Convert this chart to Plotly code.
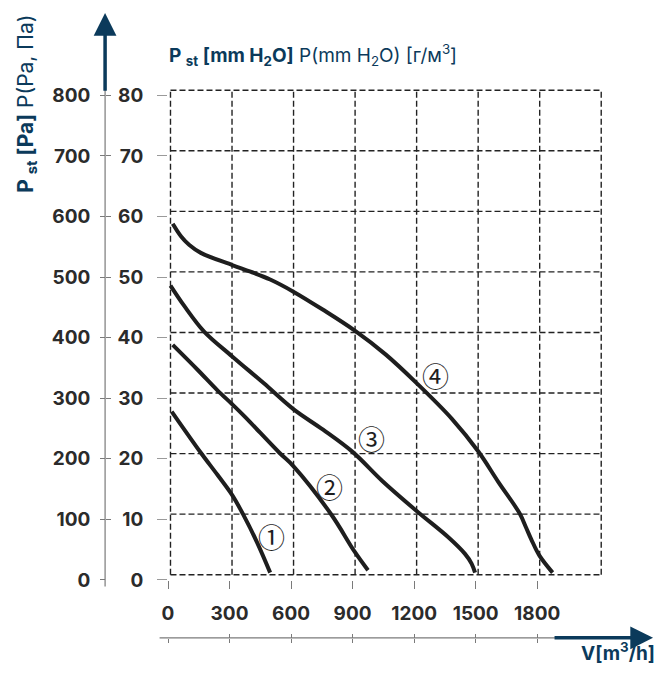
import plotly.graph_objects as go

# ---------------- data ----------------
flow_ticks = [0, 300, 600, 900, 1200, 1500, 1800]
flow_labels = ["0", "300", "600", "900", "1200", "1500", "1800"]
pa_ticks = [0, 100, 200, 300, 400, 500, 600, 700, 800]
pa_labels = ["0", "100", "200", "300", "400", "500", "600", "700", "800"]
mm_labels = ["0", "10", "20", "30", "40", "50", "60", "70", "80"]

curve1_x = [18, 160, 240, 313, 365, 434, 498]
curve1_y = [278, 210, 174, 140, 109, 62, 12]

curve2_x = [23, 144, 241, 313, 373, 543, 611, 796, 909, 975]
curve2_y = [388, 347, 313, 290, 270, 210, 188, 108, 47, 16]

curve3_x = [12, 80, 176, 313, 466, 611, 756, 901, 1046, 1215, 1368, 1448, 1480, 1497]
curve3_y = [486, 452, 410, 369, 325, 282, 248, 211, 163, 113, 70, 43, 27, 12]

curve4_x = [23, 64, 104, 160, 313, 402, 498, 611, 756, 909, 1062, 1212, 1384, 1513, 1610, 1714, 1745, 1771, 1811, 1875]
curve4_y = [588, 567, 553, 540, 520, 509, 496, 476, 446, 412, 372, 325, 266, 212, 162, 110, 87, 67, 40, 12]

curve_names = ["①", "②", "③", "④"]
curve_label_x = [506, 788, 994, 1303]
curve_label_y = [72, 154, 234, 338]

# ---------------- styling / layout constants ----------------
W, H = 658, 679
Y_FIX = 1 / 0.983                  # the photo squeezes the page height slightly
X0_PX, X_SCALE = 163.5, 0.207      # px of flow 0, px per m3/h
Y0_PX, Y_SCALE = 580.3, 0.606      # px of pressure 0, px per Pa (as seen in the picture)
RIGHT_PX, TOP_PX = 612, 84
GRID_DX = 2.5 / X_SCALE
GRID_DY = 5.2 / Y_SCALE
BLUE = "#0b3a5b"
INK = "#1e1e1e"
LABEL = "#2b2b2b"
AXGRAY = "#7a7a7a"
FONT = "Inter"


def px_x(p):
    return p / W


def px_y(p):
    return max(0.0, (H - p * Y_FIX) / H)


x_range = [0, (RIGHT_PX - X0_PX) / X_SCALE]
y_range = [0, (Y0_PX - TOP_PX) / Y_SCALE]
x_domain = [px_x(X0_PX), px_x(RIGHT_PX)]
y_domain = [px_y(Y0_PX), px_y(TOP_PX)]

fig = go.Figure()

for cx, cy in [(curve1_x, curve1_y), (curve2_x, curve2_y), (curve3_x, curve3_y), (curve4_x, curve4_y)]:
    fig.add_trace(go.Scatter(x=cx, y=cy, mode="lines",
                             line=dict(color=INK, width=4, shape="spline", smoothing=1.0),
                             showlegend=False, hoverinfo="skip"))

# dummy traces that switch on the extra axes
for xa, ya in [("x", "y2"), ("x", "y3"), ("x2", "y"), ("x3", "y")]:
    fig.add_trace(go.Scatter(x=[None], y=[None], xaxis=xa, yaxis=ya, mode="lines",
                             showlegend=False, hoverinfo="skip"))

# dashed grid, slightly offset like the reference
grid_top = pa_ticks[-1] + GRID_DY
grid_right = 2100 + GRID_DX
for v in list(range(0, 2101, 300)):
    fig.add_shape(type="line", xref="x", yref="y", x0=v + GRID_DX, x1=v + GRID_DX,
                  y0=GRID_DY, y1=grid_top, line=dict(color="#222222", width=1.4, dash="6px,3px"),
                  layer="below")
for p in pa_ticks:
    fig.add_shape(type="line", xref="x", yref="y", x0=GRID_DX, x1=grid_right,
                  y0=p + GRID_DY, y1=p + GRID_DY, line=dict(color="#222222", width=1.4, dash="6px,3px"),
                  layer="below")

# gray axis lines
fig.add_shape(type="line", xref="paper", yref="paper", x0=px_x(100), x1=px_x(100),
              y0=px_y(587), y1=px_y(88), line=dict(color=AXGRAY, width=1.2))
fig.add_shape(type="line", xref="paper", yref="paper", x0=px_x(155), x1=px_x(556),
              y0=px_y(638.3), y1=px_y(638.3), line=dict(color=AXGRAY, width=1.2))

annotations = []
# dark blue arrows
annotations.append(dict(xref="paper", yref="paper", x=px_x(100), y=px_y(13), ax=0, ay=78 * Y_FIX,
                        axref="pixel", ayref="pixel", text="", showarrow=True, arrowhead=2,
                        arrowsize=1.3, arrowwidth=3.5, arrowcolor=BLUE, standoff=0))
annotations.append(dict(xref="paper", yref="paper", x=px_x(653), y=px_y(638.3), ax=-100, ay=0,
                        axref="pixel", ayref="pixel", text="", showarrow=True, arrowhead=2,
                        arrowsize=1.3, arrowwidth=3.5, arrowcolor=BLUE, standoff=0))
# titles
annotations.append(dict(xref="paper", yref="paper", x=px_x(162), y=px_y(55), xanchor="left",
                        yanchor="middle", showarrow=False,
                        text="<b>P <sub>st</sub> [mm H<sub>2</sub>O]</b> P(mm H<sub>2</sub>O) [г/м<sup>3</sup>]",
                        font=dict(family=FONT, size=19, color=BLUE)))
annotations.append(dict(xref="paper", yref="paper", x=px_x(21), y=px_y(104), xanchor="center",
                        yanchor="middle", showarrow=False, textangle=-90,
                        text="<b>P <sub>st</sub> [Pa]</b> P(Pa, Па)",
                        font=dict(family=FONT, size=21, color=BLUE)))
annotations.append(dict(xref="paper", yref="paper", x=px_x(657), y=0, xanchor="right",
                        yanchor="bottom", showarrow=False,
                        text="<b>V[m<sup>3</sup>/h]</b>",
                        font=dict(family=FONT, size=19, color=BLUE)))
# circled curve numbers
for name, lx, ly in zip(curve_names, curve_label_x, curve_label_y):
    annotations.append(dict(xref="x", yref="y", x=lx, y=ly, text=name, showarrow=False,
                            xanchor="center", yanchor="middle",
                            font=dict(family="Noto Sans CJK JP", size=27, color=INK)))

tickfont = dict(family=FONT, size=19, color=LABEL, weight="bold")

fig.update_layout(
    width=W, height=H, margin=dict(l=0, r=0, t=0, b=0),
    paper_bgcolor="white", plot_bgcolor="white",
    showlegend=False,
    annotations=annotations,
    xaxis=dict(domain=x_domain, range=x_range, tickvals=flow_ticks, ticktext=flow_labels,
               ticks="outside", ticklen=8, tickcolor=AXGRAY, tickwidth=1,
               showline=False, showgrid=False, zeroline=False,
               tickfont=tickfont, ticklabelstandoff=8),
    xaxis2=dict(overlaying="x", anchor="free", position=px_y(638.3), range=x_range,
                tickvals=flow_ticks, ticks="outside", ticklen=4, tickcolor=AXGRAY,
                showticklabels=False, showline=False, showgrid=False, zeroline=False),
    xaxis3=dict(overlaying="x", anchor="free", position=px_y(638.3), range=x_range,
                tickvals=flow_ticks, ticks="inside", ticklen=4, tickcolor=AXGRAY,
                showticklabels=False, showline=False, showgrid=False, zeroline=False),
    yaxis=dict(domain=y_domain, range=y_range, tickvals=pa_ticks, ticktext=mm_labels,
               ticks="outside", ticklen=10, tickcolor="#9a9a9a", tickwidth=1,
               showline=False, showgrid=False, zeroline=False,
               tickfont=tickfont, ticklabelstandoff=10),
    yaxis2=dict(overlaying="y", anchor="free", position=px_x(100), side="left", range=y_range,
                tickvals=pa_ticks, ticktext=pa_labels, ticks="outside", ticklen=5,
                tickcolor=AXGRAY, showline=False, showgrid=False, zeroline=False,
                tickfont=tickfont, ticklabelstandoff=6),
    yaxis3=dict(overlaying="y", anchor="free", position=px_x(100), side="left", range=y_range,
                tickvals=pa_ticks, ticks="inside", ticklen=5, tickcolor=AXGRAY,
                showticklabels=False, showline=False, showgrid=False, zeroline=False),
)

fig.write_html("out.html",
               config=dict(displayModeBar=False),
               post_script="document.body.style.margin='0';document.body.style.padding='0';")
